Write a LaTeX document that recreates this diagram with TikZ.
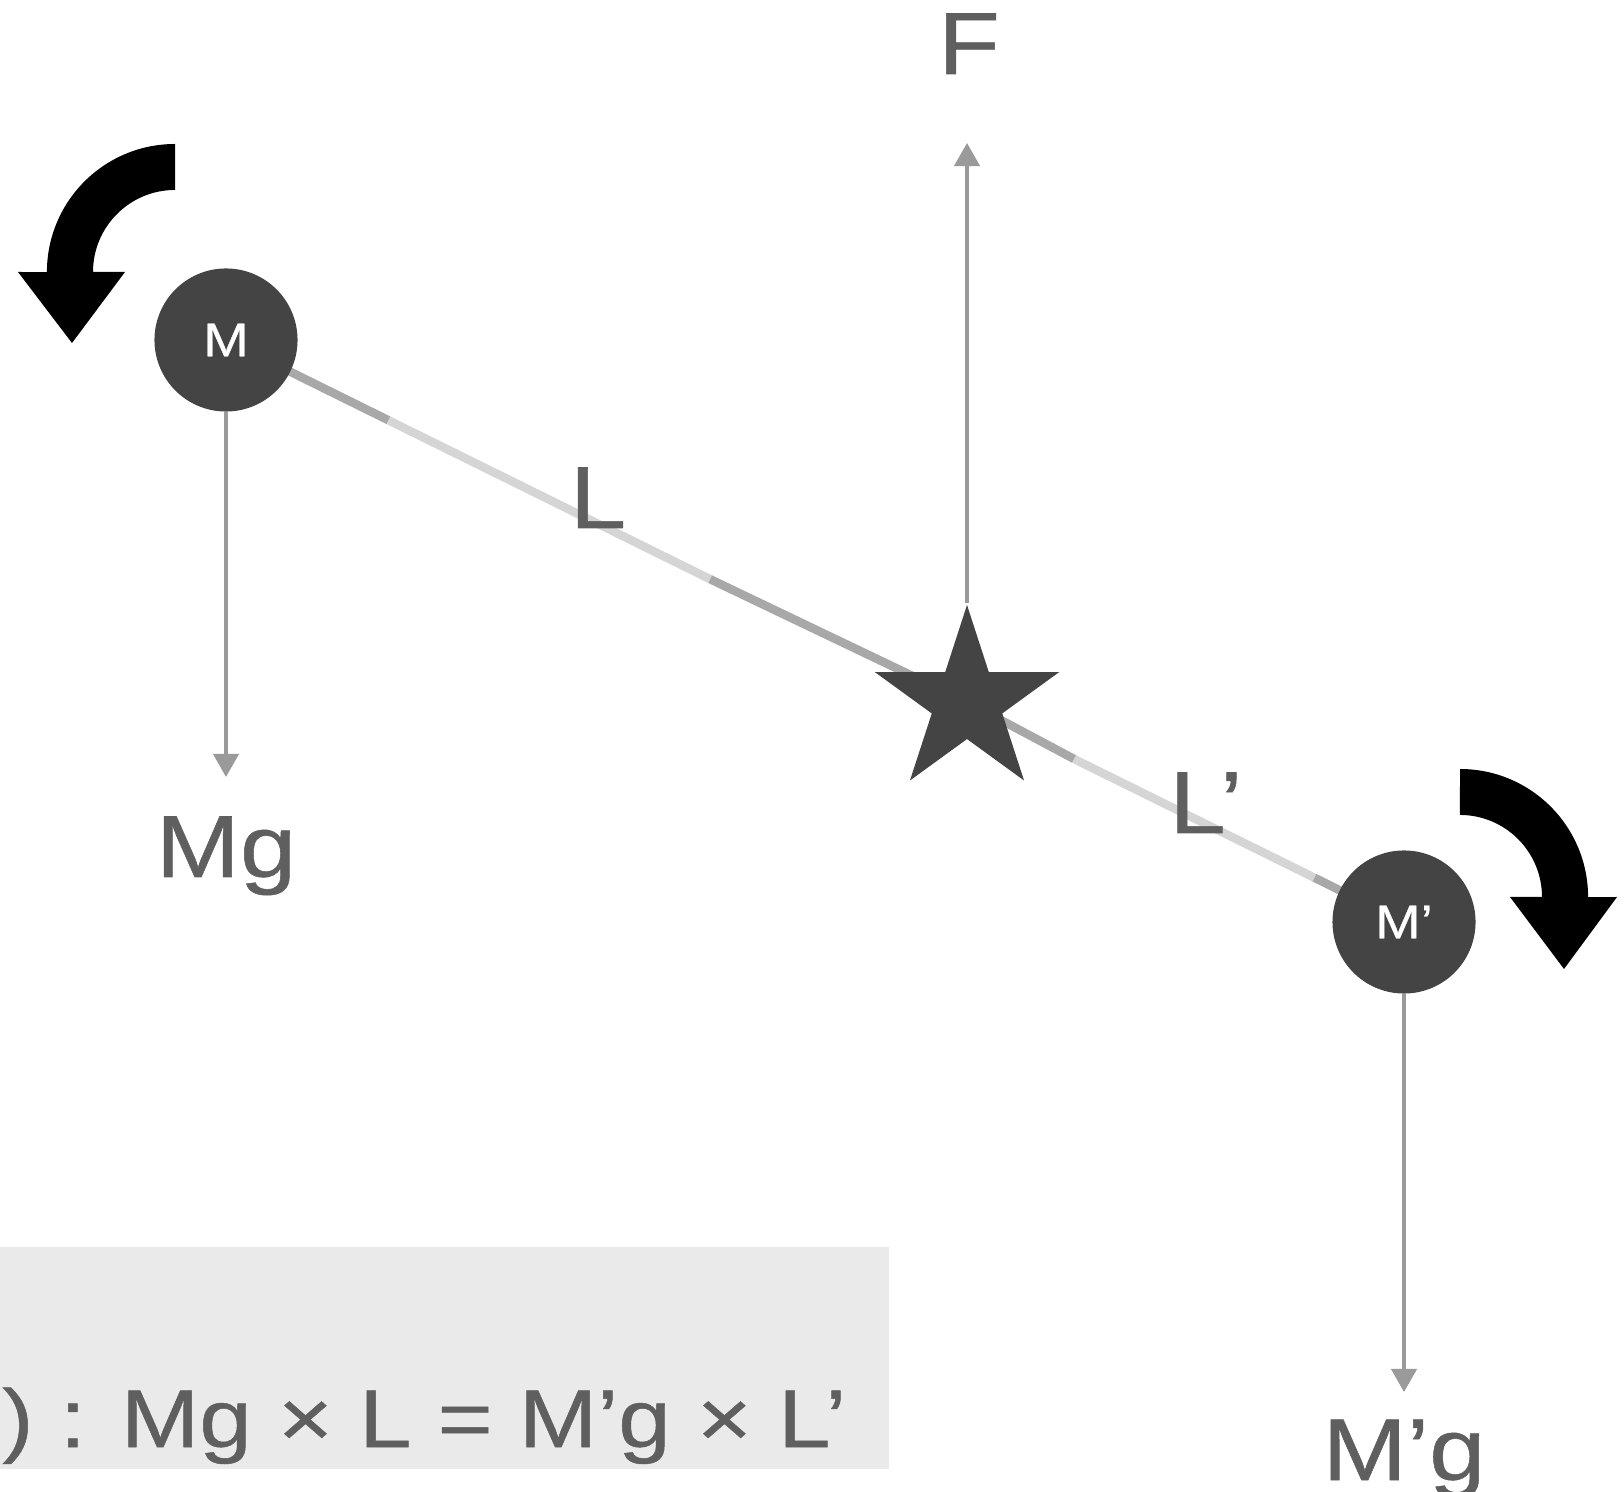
\documentclass[tikz,border=0pt]{standalone}
\usepackage{fontspec}
\setmainfont{Liberation Sans}[FakeStretch=1.15, FakeBold=0.6]
\newfontfamily\eqfont{Liberation Sans}[FakeStretch=1.15, FakeBold=0.6]
\usetikzlibrary{shapes.geometric, arrows.meta, positioning, backgrounds, calc}

\definecolor{massgray}{HTML}{444444}
\definecolor{forcegray}{HTML}{9A9A9A}
\definecolor{textgray}{HTML}{5F5F5F}
\definecolor{beamdark}{HTML}{A8A8A8}
\definecolor{beamlight}{HTML}{D5D5D5}
\definecolor{boxgray}{HTML}{EAEAEA}

\begin{document}
\begin{tikzpicture}[
    x=0.01cm, y=0.01cm,
    mass/.style={
      circle, fill=massgray, minimum size=1.43cm, inner sep=0pt,
      text=white, font=\fontsize{13.5}{14}\selectfont
    },
    force/.style={draw=forcegray, line width=0.04cm,
      -{Triangle[width=0.25cm, length=0.23cm]}},
    lbl/.style={text=textgray, font=\fontsize{25}{26}\selectfont,
      inner sep=0pt, anchor=base},
    beamd/.style={draw=beamdark, line width=0.085cm},
    beaml/.style={draw=beamlight, line width=0.085cm},
    turn/.style={fill=black}
  ]
  \useasboundingbox (0,0) rectangle (1624,-1492);

  % Masses and pivot
  \node[mass] (M)  at (226,-340)  {M};
  \node[mass] (Mp) at (1404,-922) {M’};
  \node[star, star points=5, star point ratio=2.62, minimum size=1.94cm,
        inner sep=0pt, fill=massgray] (pivot) at (967,-702) {};

  % Beam (behind masses and pivot)
  \begin{scope}[on background layer]
    \draw[beamd] (M.center) -- ($(M)!0.138!(Mp)$);
    \draw[beaml] ($(M)!0.138!(Mp)$) -- ($(M)!0.411!(Mp)$);
    \draw[beamd] ($(M)!0.411!(Mp)$) -- (pivot.center);
    \draw[beamd] (pivot.center) -- ($(M)!0.72!(Mp)$);
    \draw[beaml] ($(M)!0.72!(Mp)$) -- ($(M)!0.924!(Mp)$);
    \draw[beamd] ($(M)!0.924!(Mp)$) -- (Mp.center);
  \end{scope}

  % Labels
  \node[lbl] (Flbl)   at (969,-74)    {F};
  \node[lbl] (Mglbl)  at (226,-877)   {Mg};
  \node[lbl] (Mpglbl) at (1404,-1480) {M’g};
  \node[lbl] (Llbl)   at (598,-528)   {L};
  \node[lbl] (Lplbl)  at (1206,-833)  {L’};

  % Forces
  \coordinate (Ftip)   at (967,-143);
  \coordinate (Mgtip)  at (226,-777);
  \coordinate (Mpgtip) at (1404,-1392);
  \draw[force] (pivot.north) -- (Ftip);
  \draw[force] (M.south) -- (Mgtip);
  \draw[force] (Mp.south) -- (Mpgtip);

  % Turning arrows
  \fill[turn] (175,-144) arc[start angle=90, end angle=180, radius=1.28cm]
    -- (18,-272) -- (72,-343) -- (125,-272) -- (93,-272)
    arc[start angle=180, end angle=90, radius=0.82cm] -- cycle;
  \fill[turn] (1460,-769) arc[start angle=90, end angle=0, radius=1.28cm]
    -- (1617,-897) -- (1564,-969) -- (1510,-897) -- (1542,-897)
    arc[start angle=0, end angle=90, radius=0.82cm] -- cycle;

  % Equation strip
  \fill[boxgray] (-20,-1247) rectangle (889,-1469);
  \node[lbl, anchor=base east, font=\eqfont\fontsize{23.3}{24}\selectfont]
    (eq) at (847,-1447) {) : Mg × L = M’g × L’};

\end{tikzpicture}
\end{document}
